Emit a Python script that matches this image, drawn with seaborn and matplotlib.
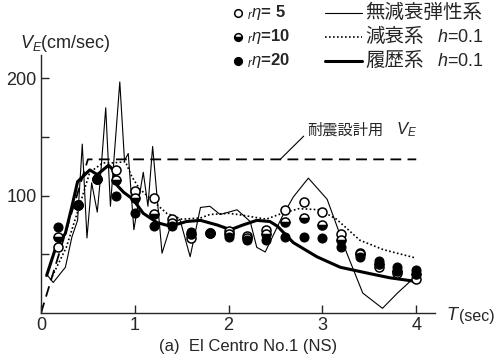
import matplotlib
matplotlib.use('Agg')
import matplotlib.pyplot as plt
from matplotlib.lines import Line2D
import seaborn as sns
import pandas as pd
import numpy as np

# period T (sec) / velocity V_E (cm/sec)
t_elastic = [0.07, 0.13, 0.26, 0.33, 0.39, 0.44, 0.49, 0.54, 0.60, 0.63, 0.69, 0.74, 0.84,
             0.89, 0.93, 0.99, 1.09, 1.14, 1.19, 1.29, 1.38, 1.48, 1.59, 1.70, 1.80, 1.91,
             2.09, 2.23, 2.30, 2.39, 2.57, 2.69, 2.85, 3.05, 3.26, 3.43, 3.64, 3.80, 3.99]
v_elastic = [32, 26, 39, 65, 79, 144, 64, 111, 86, 112, 175, 91, 197,
             130, 136, 71, 120, 91, 142, 51, 74, 80, 48, 90, 91, 84,
             88, 78, 56, 52, 82, 99, 115, 97, 51, 17, 4, 17, 31]

t_damped = [0.10, 0.27, 0.42, 0.52, 0.66, 0.77, 0.90, 0.97, 1.05, 1.20, 1.34, 1.50, 1.70,
            1.80, 2.00, 2.10, 2.25, 2.40, 2.57, 2.75, 2.97, 3.15, 3.40, 3.65, 3.99]
v_damped = [28, 56, 94, 120, 128, 128, 129, 116, 106, 95, 85, 80, 81,
            84, 85, 84, 82, 80, 85, 89, 88, 80, 62, 54, 47]

t_hyst = [0.06, 0.15, 0.26, 0.33, 0.39, 0.52, 0.60, 0.72, 0.77, 0.81, 0.88, 0.98, 1.09,
          1.24, 1.38, 1.55, 1.70, 1.88, 2.02, 2.15, 2.30, 2.44, 2.52, 2.69, 2.94, 3.19,
          3.48, 3.72, 3.99]
v_hyst = [32, 54, 68, 91, 112, 122, 118, 126, 122, 109, 103, 97, 85,
          77, 74, 78, 79, 75, 71, 75, 79, 78, 74, 60, 48, 39,
          34, 30, 27]

t_design = [0.0, 0.5, 4.0]
v_design = [0, 131, 131]

t_pts = [0.18, 0.39, 0.6, 0.8, 1.0, 1.2, 1.4, 1.6, 1.8, 2.0, 2.2, 2.4, 2.6, 2.8, 3.0, 3.2,
         3.4, 3.6, 3.8, 4.0]
v_eta5 = [56, 92, 114, 122, 104, 98, 80, 64, 68, 70, 66, 71, 88, 95, 86, 67, 51, 39, 34, 29]
v_eta10 = [65, 92, 114, 113, 98, 84, 77, 67, 68, 67, 64, 67, 78, 81, 75, 62, 50, 42, 36, 33]
v_eta20 = [73, 92, 114, 100, 85, 74, 74, 69, 68, 65, 62, 62, 65, 65, 64, 56, 48, 44, 39, 37]

sns.set_style('ticks')
plt.rcParams['font.family'] = ['Liberation Sans', 'Noto Sans CJK JP']
plt.rcParams['mathtext.fontset'] = 'custom'
plt.rcParams['mathtext.it'] = 'Liberation Sans:italic'
plt.rcParams['mathtext.rm'] = 'Liberation Sans'

W, H = 500, 360
fig = plt.figure(figsize=(5, 3.6), dpi=100)
ax = fig.add_axes([41 / W, 1 - 313 / H, (435 - 41) / W, (313 - 55) / H])


def px(x, y):
    return x / W, 1 - y / H


sns.lineplot(x=t_elastic, y=v_elastic, ax=ax, color='black', lw=0.8, sort=False)
sns.lineplot(x=t_damped, y=v_damped, ax=ax, color='black', lw=1.2, ls=(0, (1, 1.4)), sort=False)
sns.lineplot(x=t_hyst, y=v_hyst, ax=ax, color='black', lw=2.2, sort=False)
sns.lineplot(x=t_design, y=v_design, ax=ax, color='black', lw=1.3, ls=(0, (6, 3.5)), sort=False)

ms = 6.5
sns.lineplot(x=t_pts, y=v_eta5, ax=ax, color='black', ls='none', marker='o', ms=ms,
             mfc='white', mec='black', mew=1.1, sort=False)
sns.lineplot(x=t_pts, y=v_eta10, ax=ax, color='black', ls='none', marker='o', ms=ms,
             fillstyle='bottom', mfc='black', mfcalt='white', mec='black', mew=1.1, sort=False)
sns.lineplot(x=t_pts, y=v_eta20, ax=ax, color='black', ls='none', marker='o', ms=ms,
             mfc='black', mec='black', sort=False)

ax.set_xlim(0, 4.2)
ax.set_ylim(0, 220)
ax.set_xticks([0, 1, 2, 3, 4])
ax.set_yticks([100, 200])
ax.set_yticks([50, 150], minor=True)
ax.tick_params(direction='in', length=6, width=1, labelsize=13, pad=3)
ax.tick_params(which='minor', direction='in', length=6, width=1)
ax.spines['top'].set_visible(False)
ax.spines['right'].set_visible(False)
for s in ['left', 'bottom']:
    ax.spines[s].set_linewidth(1)
ax.set_xlabel('')
ax.set_ylabel('')

fig.text(*px(20, 43), r'$V_E$(cm/sec)', fontsize=13, va='center', ha='left')
fig.text(*px(446, 315), r'$T$', fontsize=13, va='center', ha='left')
fig.text(*px(459, 316), '(sec)', fontsize=11.5, va='center', ha='left')
fig.text(*px(248, 346), '(a)  El Centro No.1 (NS)', fontsize=12, va='center', ha='center')

# label for the design spectrum
ax.annotate('耐震設計用', xy=(2.55, 131), xycoords='data',
            xytext=px(307, 130), textcoords='figure fraction', fontsize=11,
            va='center', ha='left',
            arrowprops=dict(arrowstyle='-', color='black', lw=0.8, shrinkA=0, shrinkB=0,
                            relpos=(0, 0.3)))
fig.text(*px(396, 130), '$V_E$', fontsize=12, va='center', ha='left')

# legend
rows = [13, 37, 61]
eta_labels = ['$_r\\eta$= 5', '$_r\\eta$=10', '$_r\\eta$=20']
mk_styles = [dict(mfc='white'), dict(fillstyle='bottom', mfc='black', mfcalt='white'),
             dict(mfc='black')]
for y, lab, st in zip(rows, eta_labels, mk_styles):
    fig.add_artist(Line2D([238 / W], [1 - y / H], marker='o', ms=5.5, mec='black', mew=1.1,
                          color='black', transform=fig.transFigure, **st))
    fig.text(*px(247, y), lab, fontsize=12, fontweight='bold', va='center', ha='left')

line_styles = [dict(lw=0.8), dict(lw=1.2, ls=(0, (1, 1.4))), dict(lw=2.2)]
line_labels = ['無減衰弾性系', '減衰系', '履歴系']
line_h = ['', '$h$=0.1', '$h$=0.1']
for y, lab, hl, st in zip(rows, line_labels, line_h, line_styles):
    fig.add_artist(Line2D([325 / W, 362 / W], [1 - y / H] * 2, color='black',
                          transform=fig.transFigure, **st))
    fig.text(*px(365, y), lab, fontsize=14, va='center', ha='left')
    if hl:
        fig.text(*px(437, y), hl, fontsize=13, va='center', ha='left')

fig.savefig('out.png', dpi=100)
